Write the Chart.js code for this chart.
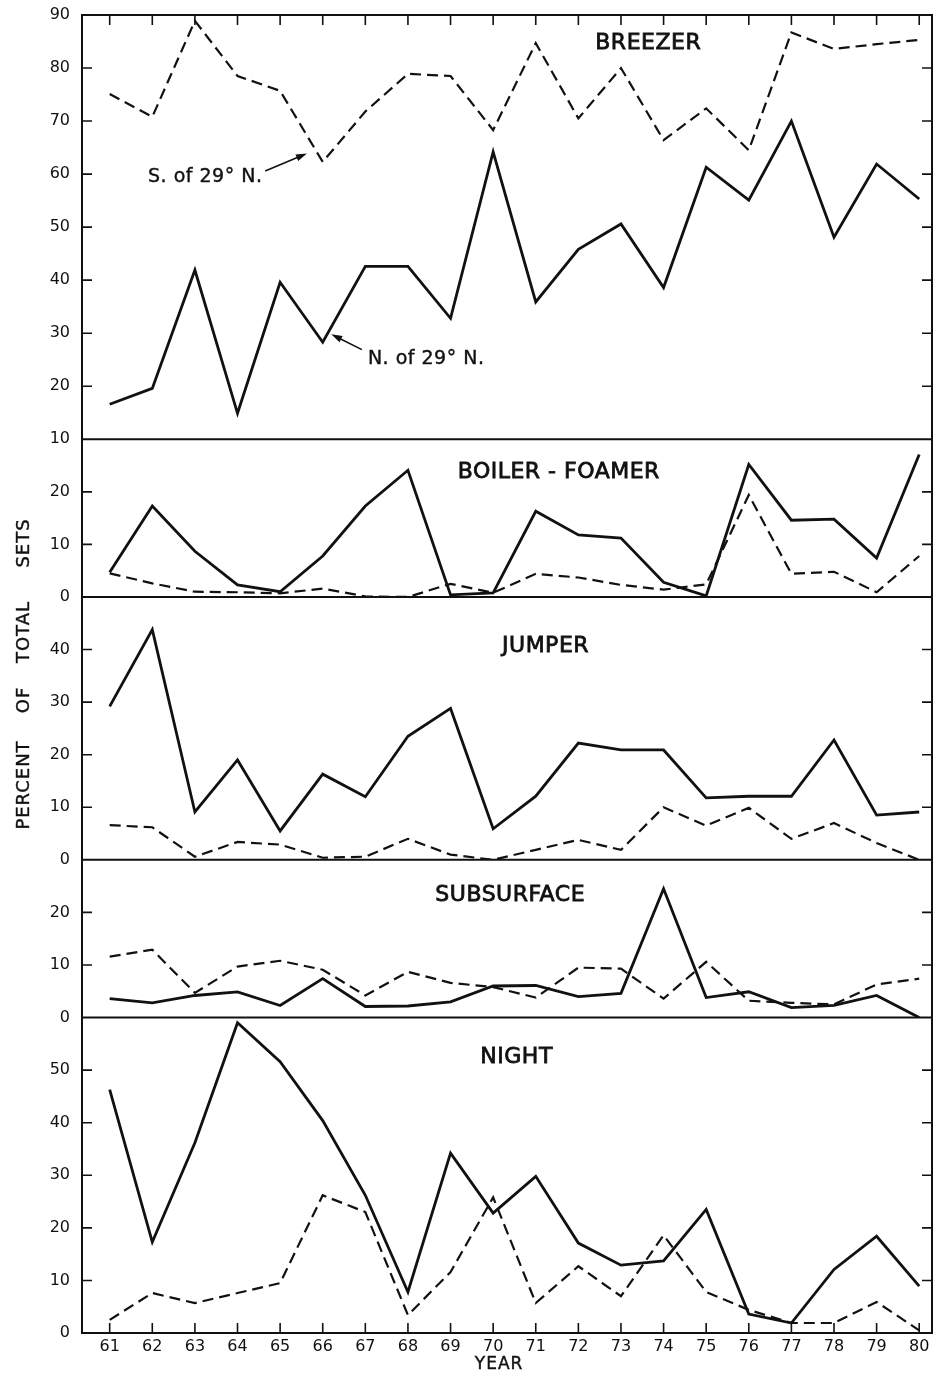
<!DOCTYPE html>
<html>
<head>
<meta charset="utf-8">
<script src="https://cdn.jsdelivr.net/npm/chart.js@4.4.1/dist/chart.umd.min.js"></script>
<style>
  body { margin: 0; background: #fff; }
  canvas { display: block; }
</style>
</head>
<body>
<canvas id="myChart" width="933" height="1376"></canvas>
<script>
// years on the x axis (19xx)
const years = [61, 62, 63, 64, 65, 66, 67, 68, 69, 70, 71, 72, 73, 74, 75, 76, 77, 78, 79, 80];

// percent of total sets, solid = N. of 29° N., dashed = S. of 29° N.
const breezerN = [16.6, 19.6, 41.9, 14.9, 39.6, 28.3, 42.6, 42.6, 32.8, 64.2, 35.9, 45.8, 50.6, 38.6, 61.3, 55.1, 70.0, 48.1, 61.9, 55.3];
const breezerS = [75.1, 70.8, 88.9, 78.5, 75.7, 62.3, 71.8, 78.9, 78.5, 68.3, 84.7, 70.5, 80.0, 66.4, 72.4, 64.5, 86.7, 83.6, 84.5, 85.3];

const boilerN = [4.7, 17.3, 8.7, 2.3, 1.0, 7.8, 17.3, 24.1, 0.4, 0.8, 16.3, 11.8, 11.2, 2.8, 0.2, 25.2, 14.6, 14.8, 7.4, 27.1];
const boilerS = [4.5, 2.6, 1.0, 0.9, 0.7, 1.6, 0.1, 0.0, 2.5, 0.8, 4.4, 3.7, 2.3, 1.4, 2.4, 19.4, 4.4, 4.8, 0.9, 7.8];

const jumperN = [29.2, 43.8, 9.1, 19.0, 5.5, 16.3, 12.0, 23.5, 28.8, 5.9, 12.1, 22.2, 20.9, 20.9, 11.8, 12.1, 12.1, 22.8, 8.5, 9.1];
const jumperS = [6.6, 6.2, 0.6, 3.4, 2.9, 0.4, 0.6, 4.0, 1.0, 0.0, 1.9, 3.8, 1.9, 10.0, 6.5, 9.9, 4.0, 7.0, 3.2, 0.0];

const subsurfaceN = [3.6, 2.8, 4.2, 4.9, 2.3, 7.4, 2.1, 2.2, 3.0, 6.0, 6.1, 4.0, 4.6, 24.5, 3.8, 4.9, 1.9, 2.3, 4.2, 0.0];
const subsurfaceS = [11.6, 12.9, 4.7, 9.7, 10.8, 9.1, 4.2, 8.7, 6.6, 5.8, 3.8, 9.5, 9.3, 3.6, 10.6, 3.2, 2.8, 2.5, 6.3, 7.4];

const nightN = [46.3, 17.3, 36.2, 59.0, 51.6, 40.4, 26.2, 7.8, 34.2, 22.8, 29.8, 17.1, 12.9, 13.7, 23.5, 3.6, 1.9, 12.1, 18.4, 8.9];
const nightS = [2.5, 7.6, 5.7, 7.6, 9.5, 26.2, 23.0, 3.4, 11.6, 25.8, 5.7, 12.7, 7.0, 18.6, 7.8, 4.4, 1.9, 1.9, 5.9, 0.5];

const ink = '#111';
const font = 'DejaVu Sans';

// the top panel is drawn at a slightly larger scale in the original
const panels = [
  { id: 'yBreezer', name: 'BREEZER', min: 10, max: 90, h: 80.7, n: breezerN, s: breezerS, weight: 5, at: [73.64, 84.7] },
  { id: 'yBoiler', name: 'BOILER - FOAMER', min: 0, max: 30, h: 30, n: boilerN, s: boilerS, weight: 4, at: [71.54, 23.7] },
  { id: 'yJumper', name: 'JUMPER', min: 0, max: 50, h: 50, n: jumperN, s: jumperS, weight: 3, at: [71.23, 40.6] },
  { id: 'ySub', name: 'SUBSURFACE', min: 0, max: 30, h: 30, n: subsurfaceN, s: subsurfaceS, weight: 2, at: [70.4, 23.3] },
  { id: 'yNight', name: 'NIGHT', min: 0, max: 60, h: 60, n: nightN, s: nightS, weight: 1, at: [70.55, 52.4] }
];

function points(arr) {
  return years.map((yr, i) => ({ x: yr, y: arr[i] }));
}

const datasets = [];
panels.forEach(p => {
  datasets.push({
    label: p.name + ' N. of 29° N.',
    data: points(p.n),
    yAxisID: p.id,
    borderColor: ink,
    borderWidth: 2.8,
    pointRadius: 0,
    tension: 0
  });
  datasets.push({
    label: p.name + ' S. of 29° N.',
    data: points(p.s),
    yAxisID: p.id,
    borderColor: ink,
    borderWidth: 2.2,
    borderDash: [11, 6],
    pointRadius: 0,
    tension: 0
  });
});

const scales = {
  x: {
    type: 'linear',
    min: 60.35,
    max: 80.3,
    afterBuildTicks: s => { s.ticks = years.map(v => ({ value: v })); },
    ticks: { color: ink, font: { family: font, size: 16 }, padding: 4, autoSkip: false, maxRotation: 0,
             callback: v => String(v) },
    grid: { display: false, drawTicks: false },
    border: { display: true, color: ink, width: 2 },
    afterFit: s => { s.height = 43; s.paddingLeft = 0; s.paddingRight = 0; }
  }
};
panels.forEach(p => {
  scales[p.id] = {
    type: 'linear',
    position: 'left',
    stack: 'panels',
    stackWeight: p.h,
    weight: p.weight,
    min: p.min,
    max: p.max,
    ticks: {
      stepSize: 10, color: ink, padding: 12, font: { family: font, size: 16 },
      callback: v => (v === p.max && p.id !== 'yBreezer') ? '' : v
    },
    grid: { display: false, drawTicks: false },
    border: { display: true, color: ink, width: 2 },
    afterFit: s => { s.width = 82; s.paddingTop = 0; s.paddingBottom = 0; }
  };
});

// annotations in data units: text start, arrow tail, arrow head
const notes = [
  { axis: 'yBreezer', text: 'S. of 29° N.', at: [61.9, 59.4], tail: [64.65, 60.6], head: [65.63, 63.9] },
  { axis: 'yBreezer', text: 'N. of 29° N.', at: [67.06, 25.1], tail: [66.92, 26.9], head: [66.2, 29.8] }
];

function arrow(ctx, x1, y1, x2, y2) {
  const ang = Math.atan2(y2 - y1, x2 - x1);
  const c = Math.cos(ang), s = Math.sin(ang);
  ctx.beginPath();
  ctx.moveTo(x1, y1);
  ctx.lineTo(x2 - 6 * c, y2 - 6 * s);
  ctx.stroke();
  ctx.beginPath();
  ctx.moveTo(x2, y2);
  ctx.lineTo(x2 - 11 * c + 3.5 * s, y2 - 11 * s - 3.5 * c);
  ctx.lineTo(x2 - 11 * c - 3.5 * s, y2 - 11 * s + 3.5 * c);
  ctx.closePath();
  ctx.fill();
}

function heavyText(ctx, txt, x, y, w) {
  ctx.fillText(txt, x, y);
  ctx.lineWidth = w;
  ctx.strokeText(txt, x, y);
}

const framePlugin = {
  id: 'frame',
  afterDraw(chart) {
    const { ctx, chartArea: a, scales: sc } = chart;
    const xs = sc.x;
    ctx.save();
    ctx.strokeStyle = ink;
    ctx.fillStyle = ink;

    // top and right border
    ctx.lineWidth = 2;
    ctx.beginPath();
    ctx.moveTo(a.left, a.top);
    ctx.lineTo(a.right, a.top);
    ctx.lineTo(a.right, a.bottom);
    ctx.stroke();

    panels.forEach(p => {
      const s = sc[p.id];
      ctx.lineWidth = 2;
      ctx.beginPath();
      ctx.moveTo(a.left, s.top);
      ctx.lineTo(a.right, s.top);
      ctx.stroke();
      ctx.lineWidth = 1.6;
      s.ticks.forEach(t => {
        if (t.value === p.min || t.value === p.max) return;
        const y = s.getPixelForValue(t.value);
        ctx.beginPath();
        ctx.moveTo(a.left, y); ctx.lineTo(a.left + 10, y);
        ctx.moveTo(a.right, y); ctx.lineTo(a.right - 10, y);
        ctx.stroke();
      });
      // panel name
      ctx.font = '22px "' + font + '"';
      ctx.letterSpacing = '0.5px';
      ctx.textAlign = 'center';
      ctx.textBaseline = 'middle';
      heavyText(ctx, p.name, xs.getPixelForValue(p.at[0]), s.getPixelForValue(p.at[1]), 0.8);
    });

    ctx.lineWidth = 1.6;
    xs.ticks.forEach(t => {
      const x = xs.getPixelForValue(t.value);
      ctx.beginPath();
      ctx.moveTo(x, a.top); ctx.lineTo(x, a.top + 10);
      ctx.moveTo(x, a.bottom); ctx.lineTo(x, a.bottom - 10);
      ctx.stroke();
    });

    // labelled arrows
    ctx.font = '19px "' + font + '"';
    ctx.letterSpacing = '0.5px';
    ctx.textAlign = 'left';
    notes.forEach(n => {
      const s = sc[n.axis];
      heavyText(ctx, n.text, xs.getPixelForValue(n.at[0]), s.getPixelForValue(n.at[1]), 0.4);
      ctx.lineWidth = 1.6;
      arrow(ctx, xs.getPixelForValue(n.tail[0]), s.getPixelForValue(n.tail[1]),
            xs.getPixelForValue(n.head[0]), s.getPixelForValue(n.head[1]));
    });

    // axis titles
    ctx.font = '17px "' + font + '"';
    ctx.letterSpacing = '1px';
    ctx.textAlign = 'center';
    heavyText(ctx, 'YEAR', xs.getPixelForValue(70.14), xs.bottom - 11, 0.4);

    ctx.translate(24, 0);
    ctx.rotate(-Math.PI / 2);
    ctx.font = '18px "' + font + '"';
    const words = [['PERCENT', 785], ['OF', 700], ['TOTAL', 632], ['SETS', 543]];
    words.forEach(w => heavyText(ctx, w[0], -w[1], 0, 0.4));
    ctx.restore();
  }
};

const ctx = document.getElementById('myChart');
const chart = new Chart(ctx, {
  type: 'line',
  data: { datasets: datasets },
  options: {
    responsive: false,
    animation: false,
    devicePixelRatio: 1,
    layout: { padding: { top: 15, right: 1, left: 0, bottom: 0 } },
    plugins: { legend: { display: false }, tooltip: { enabled: false } },
    scales: scales
  },
  plugins: [framePlugin]
});
</script>
</body>
</html>
